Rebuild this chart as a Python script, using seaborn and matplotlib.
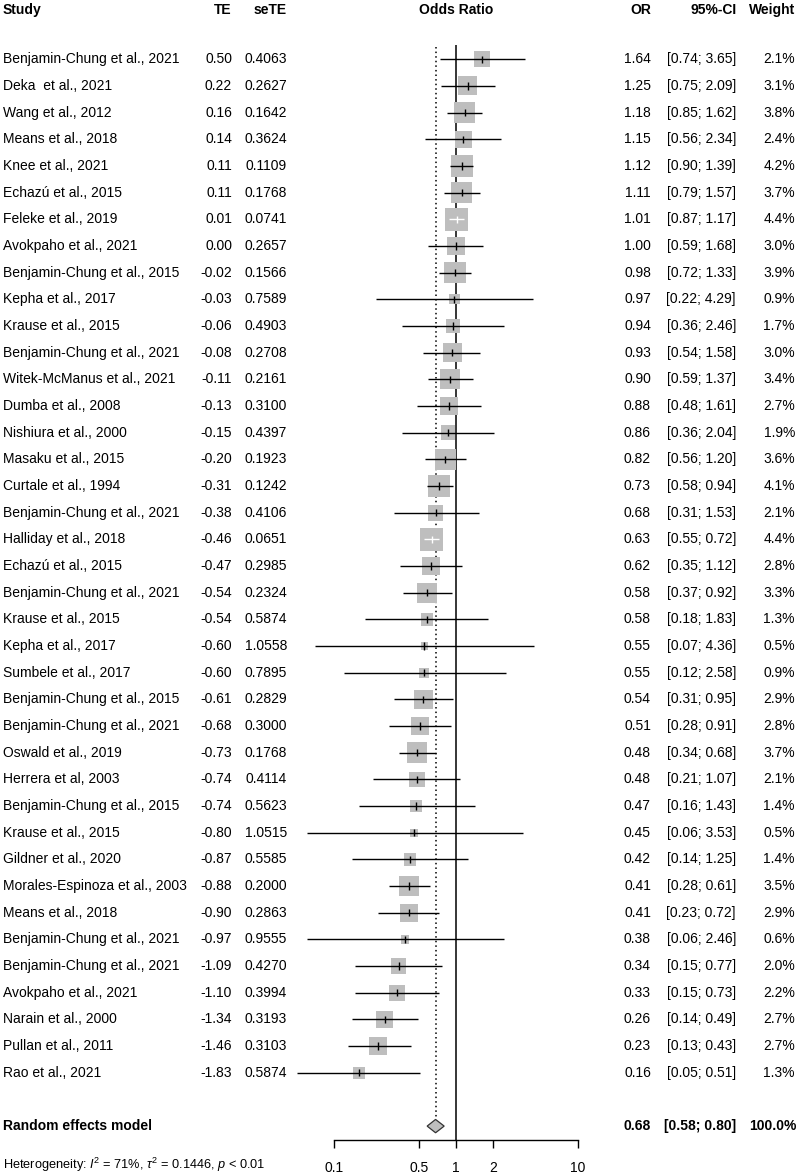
import numpy as np
import pandas as pd
import matplotlib
matplotlib.use('Agg')
import matplotlib.pyplot as plt
import matplotlib.transforms as mtransforms
import seaborn as sns

studies = ["Benjamin-Chung et al., 2021", "Deka  et al., 2021", "Wang et al., 2012",
           "Means et al., 2018", "Knee et al., 2021", "Echazú et al., 2015",
           "Feleke et al., 2019", "Avokpaho et al., 2021", "Benjamin-Chung et al., 2015",
           "Kepha et al., 2017", "Krause et al., 2015", "Benjamin-Chung et al., 2021",
           "Witek-McManus et al., 2021", "Dumba et al., 2008", "Nishiura et al., 2000",
           "Masaku et al., 2015", "Curtale et al., 1994", "Benjamin-Chung et al., 2021",
           "Halliday et al., 2018", "Echazú et al., 2015", "Benjamin-Chung et al., 2021",
           "Krause et al., 2015", "Kepha et al., 2017", "Sumbele et al., 2017",
           "Benjamin-Chung et al., 2015", "Benjamin-Chung et al., 2021", "Oswald et al., 2019",
           "Herrera et al, 2003", "Benjamin-Chung et al., 2015", "Krause et al., 2015",
           "Gildner et al., 2020", "Morales-Espinoza et al., 2003", "Means et al., 2018",
           "Benjamin-Chung et al., 2021", "Benjamin-Chung et al., 2021", "Avokpaho et al., 2021",
           "Narain et al., 2000", "Pullan et al., 2011", "Rao et al., 2021"]
te = [0.50, 0.22, 0.16, 0.14, 0.11, 0.11, 0.01, 0.00, -0.02, -0.03, -0.06, -0.08, -0.11,
      -0.13, -0.15, -0.20, -0.31, -0.38, -0.46, -0.47, -0.54, -0.54, -0.60, -0.60, -0.61,
      -0.68, -0.73, -0.74, -0.74, -0.80, -0.87, -0.88, -0.90, -0.97, -1.09, -1.10, -1.34,
      -1.46, -1.83]
se_te = [0.4063, 0.2627, 0.1642, 0.3624, 0.1109, 0.1768, 0.0741, 0.2657, 0.1566, 0.7589,
         0.4903, 0.2708, 0.2161, 0.3100, 0.4397, 0.1923, 0.1242, 0.4106, 0.0651, 0.2985,
         0.2324, 0.5874, 1.0558, 0.7895, 0.2829, 0.3000, 0.1768, 0.4114, 0.5623, 1.0515,
         0.5585, 0.2000, 0.2863, 0.9555, 0.4270, 0.3994, 0.3193, 0.3103, 0.5874]
odds = [1.64, 1.25, 1.18, 1.15, 1.12, 1.11, 1.01, 1.00, 0.98, 0.97, 0.94, 0.93, 0.90, 0.88,
        0.86, 0.82, 0.73, 0.68, 0.63, 0.62, 0.58, 0.58, 0.55, 0.55, 0.54, 0.51, 0.48, 0.48,
        0.47, 0.45, 0.42, 0.41, 0.41, 0.38, 0.34, 0.33, 0.26, 0.23, 0.16]
ci_low = [0.74, 0.75, 0.85, 0.56, 0.90, 0.79, 0.87, 0.59, 0.72, 0.22, 0.36, 0.54, 0.59, 0.48,
          0.36, 0.56, 0.58, 0.31, 0.55, 0.35, 0.37, 0.18, 0.07, 0.12, 0.31, 0.28, 0.34, 0.21,
          0.16, 0.06, 0.14, 0.28, 0.23, 0.06, 0.15, 0.15, 0.14, 0.13, 0.05]
ci_high = [3.65, 2.09, 1.62, 2.34, 1.39, 1.57, 1.17, 1.68, 1.33, 4.29, 2.46, 1.58, 1.37, 1.61,
           2.04, 1.20, 0.94, 1.53, 0.72, 1.12, 0.92, 1.83, 4.36, 2.58, 0.95, 0.91, 0.68, 1.07,
           1.43, 3.53, 1.25, 0.61, 0.72, 2.46, 0.77, 0.73, 0.49, 0.43, 0.51]
weight = [2.1, 3.1, 3.8, 2.4, 4.2, 3.7, 4.4, 3.0, 3.9, 0.9, 1.7, 3.0, 3.4, 2.7, 1.9, 3.6, 4.1,
          2.1, 4.4, 2.8, 3.3, 1.3, 0.5, 0.9, 2.9, 2.8, 3.7, 2.1, 1.4, 0.5, 1.4, 3.5, 2.9, 0.6,
          2.0, 2.2, 2.7, 2.7, 1.3]

pooled = (0.68, 0.58, 0.80)
heterogeneity = r"Heterogeneity: $I^2$ = 71%, $\tau^2$ = 0.1446, $p$ < 0.01"
xticks = [0.1, 0.5, 1, 2, 10]
xtick_labels = ["0.1", "0.5", "1", "2", "10"]

sns.set_theme(style='white')
plt.rcParams['font.family'] = ['Liberation Sans', 'DejaVu Sans']
plt.rcParams['mathtext.fontset'] = 'custom'
plt.rcParams['mathtext.rm'] = 'Liberation Sans'
plt.rcParams['mathtext.it'] = 'Liberation Sans:italic'

W, H = 798, 1174
fig = plt.figure(figsize=(W / 100, H / 100), dpi=100)
row_h = 26.67
y0 = 59.3
ax = fig.add_axes([334 / W, 0, (578 - 334) / W, 1])
ax.set_xscale('log')
ax.set_xlim(0.1, 10)
ax.set_ylim((H - y0) / row_h, -y0 / row_h)

df = pd.DataFrame({'study': studies, 'OR': odds, 'lo': ci_low, 'hi': ci_high, 'w': weight})
df['row'] = np.arange(len(df))
px_per_decade = (578 - 334) / 2
side_px = 10.8 * np.sqrt(df['w'])
df['size'] = (side_px * 0.72) ** 2
half_dec = side_px / 2 / px_per_decade
# CI fully hidden by the box -> draw it in white
inside = (np.log10(df['hi'] / df['OR']) < half_dec) & (np.log10(df['OR'] / df['lo']) < half_dec)
line_col = np.where(inside, 'white', 'black')

re_row = len(df) + 1
axis_row = re_row + 0.52
het_row = re_row + 1.46

# reference lines
ax.vlines(1, -0.54, axis_row, color='black', lw=1.1)
ax.vlines(pooled[0], -0.47, re_row - 0.27, color='black', lw=1.1, linestyles=(0, (1, 2)))

sns.scatterplot(data=df, x='OR', y='row', s=df['size'].values, marker='s',
                color='#BEBEBE', linewidth=0, legend=False, ax=ax, zorder=3)
ax.hlines(df['row'], df['lo'], df['hi'], colors=line_col, lw=1.0, zorder=4, clip_on=False)
ax.vlines(df['OR'], df['row'] - 0.14, df['row'] + 0.14, colors=line_col, lw=1.0, zorder=4)

dh = 0.25
ax.fill([pooled[1], pooled[0], pooled[2], pooled[0]],
        [re_row, re_row - dh, re_row, re_row + dh],
        facecolor='#BEBEBE', edgecolor='#333333', lw=0.9, zorder=4)

for s in ['top', 'right', 'left']:
    ax.spines[s].set_visible(False)
ax.spines['bottom'].set_position(('data', axis_row))
ax.spines['bottom'].set_bounds(0.1, 10)
ax.spines['bottom'].set_color('black')
ax.spines['bottom'].set_linewidth(1.0)
ax.set_xticks(xticks)
ax.set_xticklabels(xtick_labels)
ax.minorticks_off()
ax.tick_params(axis='x', direction='out', length=6, width=1.0, pad=9, labelsize=10,
               colors='black', bottom=True)
ax.set_yticks([])
ax.set_xlabel('')
ax.set_ylabel('')
ax.patch.set_alpha(0)

tr = mtransforms.blended_transform_factory(fig.transFigure, ax.transData)
fs = 10

def put(xpx, y, txt, ha='right', **kw):
    ax.text(xpx / W, y, txt, transform=tr, ha=ha, va='center', fontsize=kw.pop('size', fs),
            color='black', clip_on=False, **kw)

hdr = -1.85
put(3, hdr, 'Study', ha='left', weight='bold')
put(232, hdr, 'TE', weight='bold')
put(287, hdr, 'seTE', weight='bold')
put(456, hdr, 'Odds Ratio', ha='center', weight='bold')
put(651, hdr, 'OR', weight='bold')
put(737, hdr, '95%-CI', weight='bold')
put(795, hdr, 'Weight', weight='bold')

for i in range(len(df)):
    put(3, i, studies[i], ha='left')
    put(232, i, f"{te[i]:.2f}")
    put(287, i, f"{se_te[i]:.4f}")
    put(651, i, f"{odds[i]:.2f}")
    put(736, i, f"[{ci_low[i]:.2f}; {ci_high[i]:.2f}]")
    put(795, i, f"{weight[i]:.1f}%")

put(3, re_row, 'Random effects model', ha='left', weight='bold')
put(651, re_row, f"{pooled[0]:.2f}", weight='bold')
put(736, re_row, f"[{pooled[1]:.2f}; {pooled[2]:.2f}]", weight='bold')
put(796, re_row, "100.0%", weight='bold')
put(3, het_row, heterogeneity, ha='left', size=9.2)

fig.savefig('out.png', dpi=100)
